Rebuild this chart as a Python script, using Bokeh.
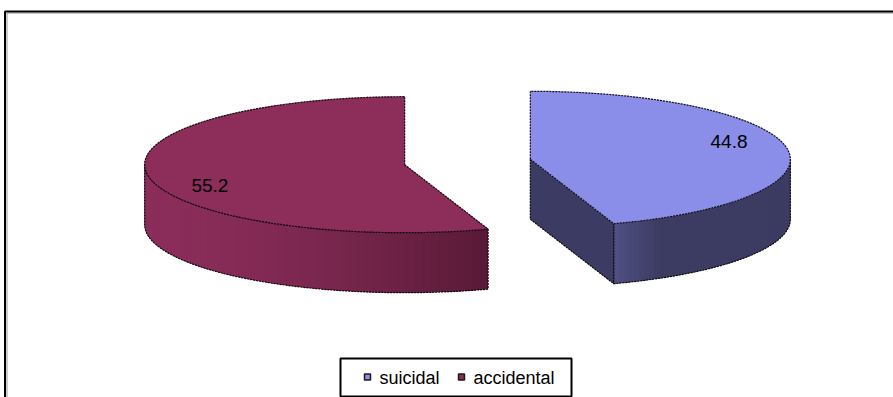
import numpy as np
from bokeh.plotting import figure
from bokeh.models import Range1d
from bokeh.embed import file_html
from bokeh.resources import INLINE
from bokeh.core.properties import value

# Share of cases by manner
categories = ["suicidal", "accidental"]
shares = [44.8, 55.2]

# Slice colours: top face, rim light end, rim dark end, radial wall
top_colors = ["#8B8EE9", "#8C2D5A"]
rim_light = [(80, 80, 132), (139, 45, 90)]
rim_dark = [(60, 60, 99), (88, 26, 54)]
wall_colors = ["#3B3B63", "#5A1A38"]

W, H = 893, 397
FONT = "Liberation Sans"

# 3D pie geometry (pixel space, y pointing down)
CX, CY = 467.0, 161.5
RX, RY = 260.0, 68.0
DEPTH = 60.0
EXPLODE = 0.245

p = figure(width=W, height=H, output_backend="svg", toolbar_location=None,
           x_range=Range1d(0, W), y_range=Range1d(H, 0),
           min_border=0, outline_line_color=None, background_fill_color="white")
p.axis.visible = False
p.grid.visible = False


def rim_pt(cx, cy, th):
    return cx + RX * np.sin(th), cy - RY * np.cos(th)


def lerp_color(c0, c1, t):
    t = min(max(t, 0.0), 1.0)
    r, g, b = (int(round(a + (b_ - a) * t)) for a, b_ in zip(c0, c1))
    return "#%02x%02x%02x" % (r, g, b)


total = float(sum(shares))
start = 0.0
edge_kw = dict(line_color="#000000", line_width=1.2, line_dash="2 1", line_alpha=0.9)
label_shift = [np.radians(-10), np.radians(-13)]

for i, (name, val) in enumerate(zip(categories, shares)):
    span = val / total * 2 * np.pi
    a0, a1 = start, start + span
    mid = (a0 + a1) / 2
    cx = CX + EXPLODE * RX * np.sin(mid)
    cy = CY - EXPLODE * RY * np.cos(mid)

    # radial walls facing the viewer
    for a, sign in ((a0, -1), (a1, 1)):
        if sign * np.sin(a) > 1e-6:
            ex, ey = rim_pt(cx, cy, a)
            xs = [cx, ex, ex, cx]
            ys = [cy, ey, ey + DEPTH, cy + DEPTH]
            p.patch(xs, ys, fill_color=wall_colors[i], line_color=wall_colors[i], line_width=0.5)
            p.line([cx, cx, ex, ex], [cy, cy + DEPTH, ey + DEPTH, ey], **edge_kw)

    # front rim (visible between 90 and 270 degrees)
    r0, r1 = max(a0, np.pi / 2), min(a1, 3 * np.pi / 2)
    if r1 > r0:
        th = np.linspace(r0, r1, 60)
        px, py = rim_pt(cx, cy, th)
        xmin, xmax = px.min(), px.max()
        # solid base so the shaded bands leave no gaps
        base = lerp_color(rim_light[i], rim_dark[i], 0.5)
        p.patch(list(px) + list(px[::-1]), list(py) + list(py[::-1] + DEPTH),
                fill_color=base, line_color=None)
        sx, sy, cols = [], [], []
        n = len(th)
        for k in range(n - 1):
            k2 = min(k + 2, n - 1)
            sx.append([px[k], px[k2], px[k2], px[k]])
            sy.append([py[k], py[k2], py[k2] + DEPTH, py[k] + DEPTH])
            xm = (px[k] + px[k + 1]) / 2
            if i == 0:
                t = (xm - xmin) / (xmax - xmin) * 4.0
            else:
                t = ((xm - xmin) / (xmax - xmin)) ** 1.6
            cols.append(lerp_color(rim_light[i], rim_dark[i], t))
        p.patches(sx, sy, fill_color=cols, line_color=None)
        # bottom silhouette and vertical ends
        p.line([px[0]] + list(px) + [px[-1]], [py[0]] + list(py + DEPTH) + [py[-1]], **edge_kw)
        p.line(list(px), list(py), line_color="#222222", line_width=0.9, line_alpha=0.7)

    # top face
    th = np.linspace(a0, a1, 160)
    tx, ty = rim_pt(cx, cy, th)
    xs = [cx] + list(tx) + [cx]
    ys = [cy] + list(ty) + [cy]
    p.patch(xs, ys, fill_color=top_colors[i], line_color=top_colors[i], line_width=0.5)
    p.line(xs, ys, **edge_kw)

    # value label on the top face
    la = mid + label_shift[i]
    lx, ly = cx + 0.81 * RX * np.sin(la), cy - 0.81 * RY * np.cos(la)
    p.text([lx], [ly], text=[f"{val:.1f}"], text_font=value(FONT), text_font_size="19px",
           text_align="center", text_baseline="middle", text_color="#000000")

    start = a1

# chart frame (top and left edges visible)
p.line([6.5, 6.5, W], [H, 12.5, 12.5], line_color="#9a9a9a", line_width=1)
p.line([4.5, 4.5, W], [H, 11, 11], line_color="#000000", line_width=2)

# legend box
p.quad(left=[340], right=[571], top=[358], bottom=[396], fill_color="white",
       line_color="#000000", line_width=2)
for i, name in enumerate(categories):
    mx = 364 + i * 94
    p.quad(left=[mx], right=[mx + 6], top=[373.5], bottom=[379.5], fill_color=top_colors[i],
           line_color="#1a1a1a", line_width=1.5)
    p.text([mx + 15], [377], text=[name], text_font=value(FONT), text_font_size="18px",
           text_align="left", text_baseline="middle", text_color="#000000")

open("out.html", "w").write(file_html(p, INLINE))
